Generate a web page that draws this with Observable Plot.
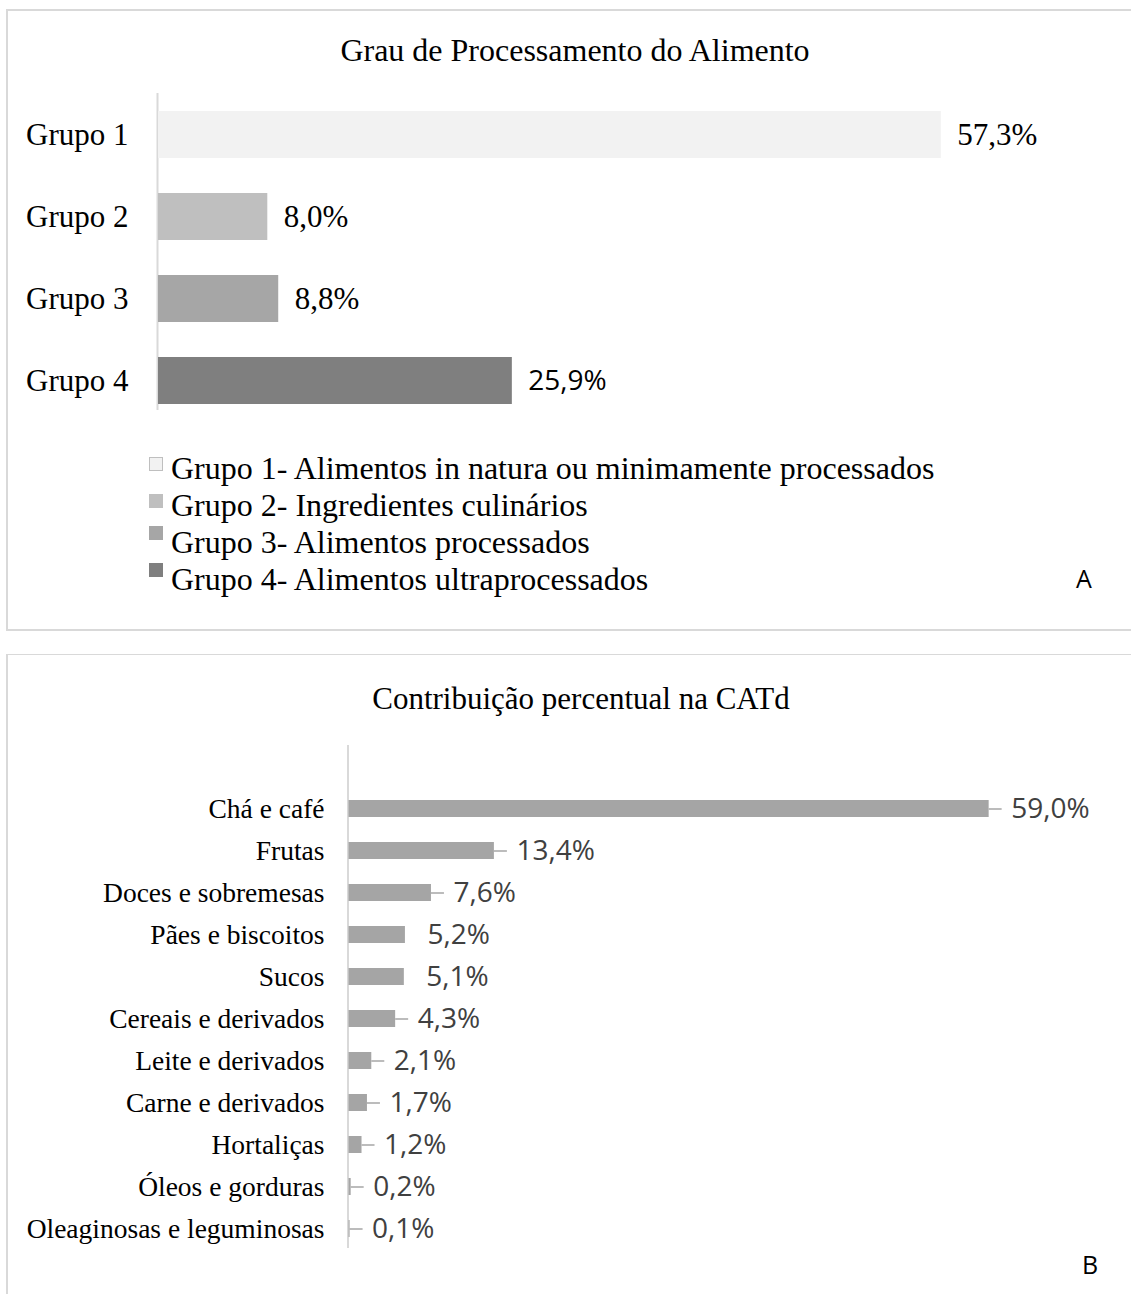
<!DOCTYPE html>
<html><head><meta charset="utf-8">
<script src="https://cdn.jsdelivr.net/npm/d3@7"></script>
<script src="https://cdn.jsdelivr.net/npm/@observablehq/plot@0.6"></script>
<style>
html,body{margin:0;padding:0;background:#fff;overflow:hidden}
#root{position:relative;width:1131px;height:1294px;overflow:hidden;background:#fff}
.abs{position:absolute}
.serif{font-family:"Liberation Serif","Times New Roman",serif;color:#000}
.sans{font-family:"Open Sans",sans-serif;color:#000}
#root svg{position:absolute;left:0;max-width:none;background:transparent}
.lrow{white-space:nowrap;height:37px;line-height:37px}
.sq{display:inline-block;width:14px;height:14px;box-sizing:border-box;margin-right:8px}
</style></head><body><div id="root">
<div class="abs" style="left:6px;top:9px;width:1140px;height:618px;border:2px solid #d9d9d9;"></div>
<div class="abs" style="left:6px;top:654px;width:1140px;height:700px;border-top:1px solid #d9d9d9;border-left:2px solid #d9d9d9;"></div>
</div>
<script>
// ---------- data ----------
const groups = ["Grupo 1", "Grupo 2", "Grupo 3", "Grupo 4"];
const groupValues = [57.3, 8.0, 8.8, 25.9];
const groupDescriptions = [
  "Grupo 1- Alimentos in natura ou minimamente processados",
  "Grupo 2- Ingredientes culinários",
  "Grupo 3- Alimentos processados",
  "Grupo 4- Alimentos ultraprocessados"
];
const titleA = "Grau de Processamento do Alimento";
const titleB = "Contribuição percentual na CATd";
const foodCategories = [
  "Chá e café", "Frutas", "Doces e sobremesas", "Pães e biscoitos", "Sucos",
  "Cereais e derivados", "Leite e derivados", "Carne e derivados", "Hortaliças",
  "Óleos e gorduras", "Oleaginosas e leguminosas"
];
const foodValues = [59.0, 13.4, 7.6, 5.2, 5.1, 4.3, 2.1, 1.7, 1.2, 0.2, 0.1];

// ---------- styling ----------
const groupColors = ["#f2f2f2", "#bfbfbf", "#a6a6a6", "#7f7f7f"];
const legendSquareLift = [8, 8, 13, 13];
const SERIF = "Liberation Serif, Times New Roman, serif";
const SANS = "Open Sans, sans-serif";
const noLeader = new Set(["Pães e biscoitos", "Sucos"]);
const fmt = v => v.toFixed(1).replace(".", ",") + "%";

const root = document.getElementById("root");

// ---------- Panel A ----------
const dataA = groups.map((g, i) => ({group: g, value: groupValues[i]}));
const plotA = Plot.plot({
  width: 1131, height: 440,
  marginTop: 93, marginBottom: 30, marginLeft: 158, marginRight: 100,
  x: {domain: [0, 60], range: [158, 977.7], axis: null},
  y: {domain: groups, range: [93, 422], paddingInner: 0.43, paddingOuter: 0.215, axis: null},
  color: {domain: groups, range: groupColors},
  style: {background: "transparent", color: "#000", overflow: "visible"},
  marks: [
    Plot.ruleX([0], {stroke: "#d9d9d9", strokeWidth: 2, dx: -1}),
    Plot.barX(dataA, {y: "group", x: "value", fill: "group"}),
    Plot.axisY({label: null, tickSize: 0, tickPadding: 30, fontSize: 31, fontFamily: SERIF, fill: "#000"}),
    Plot.text(dataA, {filter: d => d.group !== "Grupo 4", y: "group", x: "value", text: d => fmt(d.value),
      dx: 16, textAnchor: "start", fontSize: 31, fontFamily: SERIF, fill: "#000"}),
    Plot.text(dataA, {filter: d => d.group === "Grupo 4", y: "group", x: "value", text: d => fmt(d.value),
      dx: 16, textAnchor: "start", fontSize: 28, fontFamily: SANS, fill: "#000"})
  ]
});
plotA.style.top = "0px";
root.appendChild(plotA);

// ---------- Panel B ----------
const dataB = foodCategories.map((c, i) => ({cat: c, value: foodValues[i]}));
const plotB = Plot.plot({
  width: 1131, height: 640,
  marginTop: 91, marginBottom: 46, marginLeft: 348.5, marginRight: 100,
  x: {domain: [0, 60], range: [348.5, 999.5], axis: null},
  y: {domain: foodCategories, range: [134, 596], paddingInner: 0.595, paddingOuter: 0.2975, axis: null},
  style: {background: "transparent", color: "#000", overflow: "visible"},
  marks: [
    Plot.ruleX([0], {stroke: "#d9d9d9", strokeWidth: 2, dx: -1}),
    Plot.barX(dataB, {y: "cat", x: "value", fill: "#a5a5a5"}),
    Plot.ruleY(dataB, {filter: d => !noLeader.has(d.cat), y: "cat", x1: "value", x2: "value",
      insetRight: -13, stroke: "#a6a6a6", strokeWidth: 1.5}),
    Plot.axisY({label: null, tickSize: 0, tickPadding: 24.5, fontSize: 27.5, fontFamily: SERIF, fill: "#000"}),
    Plot.text(dataB, {y: "cat", x: "value", text: d => fmt(d.value), dx: 22, textAnchor: "start",
      fontSize: 28, fontFamily: SANS, fill: "#404040"})
  ]
});
plotB.style.top = "654px";
root.appendChild(plotB);

// ---------- HTML text ----------
function addText(txt, cls, css) {
  const d = document.createElement("div");
  d.className = "abs " + cls;
  d.textContent = txt;
  Object.assign(d.style, css);
  root.appendChild(d);
  return d;
}
addText(titleA, "serif", {left: "575px", top: "34px", fontSize: "32px", lineHeight: "32px", transform: "translateX(-50%)", whiteSpace: "nowrap"});
addText(titleB, "serif", {left: "581px", top: "683px", fontSize: "31px", lineHeight: "31px", transform: "translateX(-50%)", whiteSpace: "nowrap"});
addText("A", "sans", {left: "1084px", top: "566px", fontSize: "25px", lineHeight: "25px", transform: "translateX(-50%)"});
addText("B", "sans", {left: "1090px", top: "1252px", fontSize: "25px", lineHeight: "25px", transform: "translateX(-50%)"});

const legend = document.createElement("div");
legend.className = "abs serif";
Object.assign(legend.style, {left: "149px", top: "450px", fontSize: "32px"});
groupDescriptions.forEach((t, i) => {
  const row = document.createElement("div");
  row.className = "lrow";
  const sq = document.createElement("span");
  sq.className = "sq";
  sq.style.background = groupColors[i];
  sq.style.verticalAlign = legendSquareLift[i] + "px";
  if (i === 0) sq.style.border = "1px solid #bfbfbf";
  row.appendChild(sq);
  row.appendChild(document.createTextNode(t));
  legend.appendChild(row);
});
root.appendChild(legend);
</script>
</body></html>
